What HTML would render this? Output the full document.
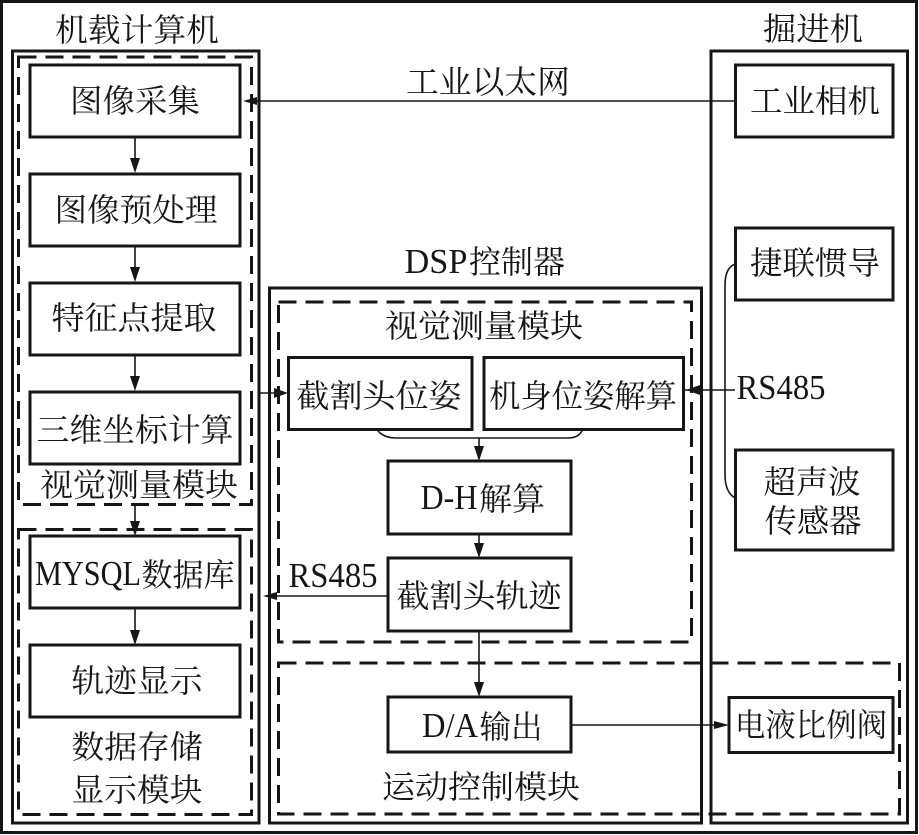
<!DOCTYPE html>
<html><head><meta charset="utf-8"><style>
html,body{margin:0;padding:0;background:#fff}
svg{display:block}
text{font-family:"Liberation Serif","Noto Serif CJK SC",serif;font-size:32px;fill:#161616;text-anchor:middle;font-weight:400}
text.e{font-size:35px}
.s{fill:none;stroke:#161616;stroke-width:3}
.d{fill:none;stroke:#161616;stroke-width:3;stroke-dasharray:18 9}
.l{fill:none;stroke:#161616;stroke-width:1.6}
.a{fill:#161616;stroke:none}
</style></head><body>
<svg width="919" height="835" viewBox="0 0 919 835" xmlns="http://www.w3.org/2000/svg">
<rect x="0" y="0" width="919" height="835" fill="#fff"/>
<rect class="s" x="1.5" y="1.5" width="915" height="831"/>
<rect class="s" x="12.5" y="51" width="246.500" height="772"/>
<rect class="s" x="269.500" y="288" width="432" height="535"/>
<rect class="s" x="711" y="51" width="196.500" height="772"/>
<rect class="d" x="18.500" y="57" width="233" height="447.500"/>
<rect class="d" x="18.500" y="529.500" width="233" height="285"/>
<rect class="d" x="278.500" y="302" width="413" height="340"/>
<rect class="d" x="278.500" y="663" width="621" height="151"/>
<rect class="s" x="30" y="65" width="210" height="72"/>
<rect class="s" x="30" y="174" width="210" height="72"/>
<rect class="s" x="30" y="283" width="210" height="72"/>
<rect class="s" x="30" y="392" width="210" height="72"/>
<rect class="s" x="30" y="536" width="210" height="72"/>
<rect class="s" x="30" y="645" width="210" height="72"/>
<rect class="s" x="288.500" y="357.500" width="183.500" height="72"/>
<rect class="s" x="484" y="357.500" width="199.500" height="72"/>
<rect class="s" x="388" y="461" width="183" height="73"/>
<rect class="s" x="388" y="558" width="183" height="73"/>
<rect class="s" x="388" y="697" width="183" height="55"/>
<rect class="s" x="729" y="697.500" width="164" height="55"/>
<rect class="s" x="735.500" y="65" width="157.500" height="72"/>
<rect class="s" x="735.500" y="228" width="157.500" height="72"/>
<rect class="s" x="735.500" y="450" width="157.500" height="100"/>
<path class="l" d="M735 101H250M135 137V165M135 246V274M135 355V383M135 505V528M135 608V636M260 393H280M684 390H735M378 431Q384 438 396 438H568Q578 438 582 431M479 438V452M479 534V549M388 596H270M479 631V688M571 725H720"/>
<path class="l" d="M735 264Q725 268 725 285V475Q725 492 735 498"/>
<path class="a" d="M243 101L257 97V105ZM135 173L130 158H140ZM135 282L130 267H140ZM135 391L130 376H140ZM135 536L130 521H140ZM135 645L130 630H140ZM288 393L274 388V398ZM686 390L700 385V395ZM479 461L474 446H484ZM479 558L474 543H484ZM263 596L277 592V600ZM479 697L474 682H484ZM729 725L714 721V729Z"/>
<text x="137" y="41" textLength="164" lengthAdjust="spacingAndGlyphs">机载计算机</text>
<text x="813" y="40" textLength="100" lengthAdjust="spacingAndGlyphs">掘进机</text>
<text x="488" y="93" textLength="164" lengthAdjust="spacingAndGlyphs">工业以太网</text>
<text x="135" y="112" textLength="130" lengthAdjust="spacingAndGlyphs">图像采集</text>
<text x="136" y="221" textLength="163" lengthAdjust="spacingAndGlyphs">图像预处理</text>
<text x="134" y="329" textLength="165" lengthAdjust="spacingAndGlyphs">特征点提取</text>
<text x="135" y="441" textLength="197" lengthAdjust="spacingAndGlyphs">三维坐标计算</text>
<text x="139" y="496" textLength="198" lengthAdjust="spacingAndGlyphs">视觉测量模块</text>
<text class="e" x="88" y="585" textLength="106" lengthAdjust="spacingAndGlyphs">MYSQL</text>
<text x="188" y="586" textLength="93" lengthAdjust="spacingAndGlyphs">数据库</text>
<text x="137" y="692" textLength="131" lengthAdjust="spacingAndGlyphs">轨迹显示</text>
<text x="137" y="758" textLength="131" lengthAdjust="spacingAndGlyphs">数据存储</text>
<text x="137" y="801" textLength="131" lengthAdjust="spacingAndGlyphs">显示模块</text>
<text class="e" x="436" y="273" textLength="63" lengthAdjust="spacingAndGlyphs">DSP</text>
<text x="517" y="273" textLength="96" lengthAdjust="spacingAndGlyphs">控制器</text>
<text x="484" y="337" textLength="198" lengthAdjust="spacingAndGlyphs">视觉测量模块</text>
<text x="379" y="407" textLength="165" lengthAdjust="spacingAndGlyphs">截割头位姿</text>
<text x="583" y="407" textLength="188" lengthAdjust="spacingAndGlyphs">机身位姿解算</text>
<text class="e" x="449" y="509" textLength="57" lengthAdjust="spacingAndGlyphs">D-H</text>
<text x="512" y="510" textLength="66" lengthAdjust="spacingAndGlyphs">解算</text>
<text x="479" y="607" textLength="165" lengthAdjust="spacingAndGlyphs">截割头轨迹</text>
<text class="e" x="450" y="737" textLength="56" lengthAdjust="spacingAndGlyphs">D/A</text>
<text x="511" y="738" textLength="63" lengthAdjust="spacingAndGlyphs">输出</text>
<text x="481" y="798" textLength="198" lengthAdjust="spacingAndGlyphs">运动控制模块</text>
<text class="e" x="333" y="587" textLength="89" lengthAdjust="spacingAndGlyphs">RS485</text>
<text class="e" x="781" y="399" textLength="89" lengthAdjust="spacingAndGlyphs">RS485</text>
<text x="815" y="112" textLength="130" lengthAdjust="spacingAndGlyphs">工业相机</text>
<text x="815" y="274" textLength="130" lengthAdjust="spacingAndGlyphs">捷联惯导</text>
<text x="812" y="493" textLength="97" lengthAdjust="spacingAndGlyphs">超声波</text>
<text x="813" y="532" textLength="97" lengthAdjust="spacingAndGlyphs">传感器</text>
<text x="811" y="736" textLength="152" lengthAdjust="spacingAndGlyphs">电液比例阀</text>
</svg>
</body></html>
